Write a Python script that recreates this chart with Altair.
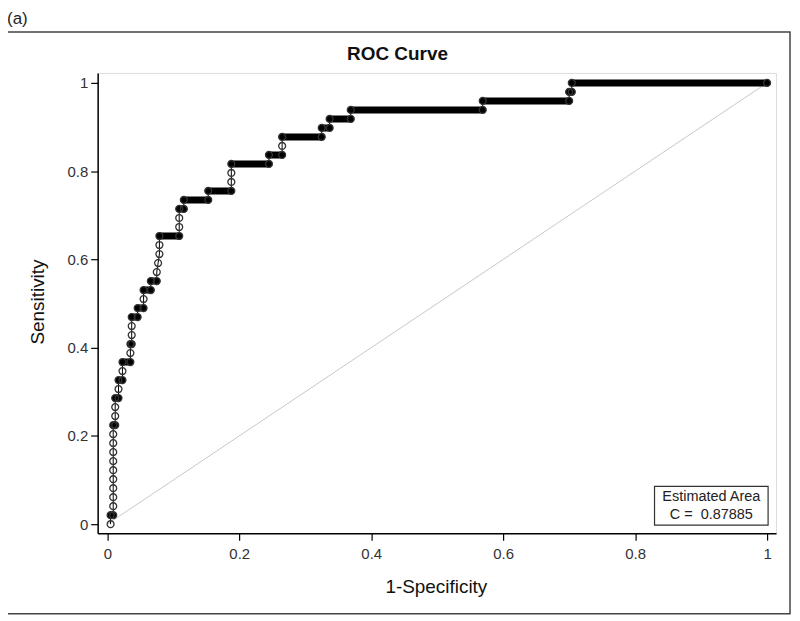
import altair as alt
import pandas as pd

# ---- data ----
tpr = [0.0, 0.0204, 0.0408, 0.0612, 0.0816, 0.1020, 0.1224, 0.1429, 0.1633, 0.1837,
       0.2041, 0.2245, 0.2449, 0.2653, 0.2857, 0.3061, 0.3265, 0.3469, 0.3673, 0.3878,
       0.4082, 0.4286, 0.4490, 0.4694, 0.4898, 0.5102, 0.5306, 0.5510, 0.5714, 0.5918,
       0.6122, 0.6327, 0.6531, 0.6735, 0.6939, 0.7143, 0.7347, 0.7551, 0.7755, 0.7959,
       0.8163, 0.8367, 0.8571, 0.8776, 0.8980, 0.9184, 0.9388, 0.9592, 0.9796, 1.0]
fpr_start = [0.005, 0.005, 0.009, 0.009, 0.009, 0.009, 0.009, 0.009, 0.009, 0.009,
             0.009, 0.009, 0.012, 0.012, 0.012, 0.017, 0.017, 0.023, 0.023, 0.035,
             0.035, 0.037, 0.037, 0.037, 0.046, 0.055, 0.055, 0.066, 0.075, 0.077,
             0.079, 0.079, 0.079, 0.109, 0.109, 0.109, 0.116, 0.153, 0.188, 0.188,
             0.188, 0.245, 0.265, 0.265, 0.325, 0.337, 0.369, 0.569, 0.700, 0.704]
fpr_end = [0.005, 0.009, 0.009, 0.009, 0.009, 0.009, 0.009, 0.009, 0.009, 0.009,
           0.009, 0.012, 0.012, 0.012, 0.017, 0.017, 0.023, 0.023, 0.035, 0.035,
           0.037, 0.037, 0.037, 0.046, 0.055, 0.055, 0.066, 0.075, 0.075, 0.077,
           0.079, 0.079, 0.109, 0.109, 0.109, 0.116, 0.153, 0.188, 0.188, 0.188,
           0.245, 0.265, 0.265, 0.325, 0.337, 0.369, 0.569, 0.700, 0.704, 1.0]
diag_x = [0.0, 1.0]
diag_y = [0.0, 1.0]
x_ticks = [0, 0.2, 0.4, 0.6, 0.8, 1]
y_ticks = [0, 0.2, 0.4, 0.6, 0.8, 1]
legend_lines = ["Estimated Area", "C =\u00a0\u00a00.87885"]
chart_title = "ROC Curve"
x_title = "1-Specificity"
y_title = "Sensitivity"
panel_label = "(a)"

FONT = "Liberation Sans"

# ---- tables ----
pts = []
runs = []
path = []
order = 0
for k in range(len(tpr)):
    pts.append({"x": fpr_start[k], "y": tpr[k]})
    path.append({"x": fpr_start[k], "y": tpr[k], "o": order}); order += 1
    if fpr_end[k] - fpr_start[k] > 0.0005:
        pts.append({"x": fpr_end[k], "y": tpr[k]})
        runs.append({"x": fpr_start[k], "x2": fpr_end[k], "y": tpr[k]})
        path.append({"x": fpr_end[k], "y": tpr[k], "o": order}); order += 1
pts = pd.DataFrame(pts)
runs = pd.DataFrame(runs)
path = pd.DataFrame(path)
diag = pd.DataFrame({"x": diag_x, "y": diag_y})

xs = alt.Scale(domain=[-0.0146, 1.0136], nice=False, zero=False)
ys = alt.Scale(domain=[-0.0203, 1.0226], nice=False, zero=False)

x_axis = alt.Axis(values=x_ticks, format="~g", title=None, grid=False, tickSize=7,
                  labelPadding=6, labelFontSize=15, labelColor="#333", labelFont=FONT,
                  domainColor="black", domainWidth=1.5, tickColor="black", tickWidth=1.2,
                  labelFlush=False)
y_axis = alt.Axis(values=y_ticks, format="~g", title=None, grid=False, tickSize=7,
                  labelPadding=3, labelFontSize=15, labelColor="#333", labelFont=FONT,
                  domainColor="black", domainWidth=1.5, tickColor="black", tickWidth=1.2,
                  labelFlush=False)

X = alt.X("x:Q", scale=xs, axis=x_axis)
Y = alt.Y("y:Q", scale=ys, axis=y_axis)

diag_layer = alt.Chart(diag).mark_line(color="#c8c8c8", strokeWidth=1).encode(x=X, y=Y)

path_layer = alt.Chart(path).mark_line(color="black", strokeWidth=1).encode(
    x=X, y=Y, order="o:Q")

run_layer = alt.Chart(runs).mark_rule(color="black", strokeWidth=7, strokeCap="round").encode(
    x=X, x2="x2:Q", y=Y)

pt_layer = alt.Chart(pts).mark_point(shape="circle", size=48, filled=False,
                                     color="#333", strokeWidth=1.3, opacity=1).encode(x=X, y=Y)

# decorations (text and frames)
frame = alt.Chart(pd.DataFrame({"a": [0]})).mark_rect(
    fillOpacity=0, stroke="#444", strokeWidth=1.5).encode(
    x=alt.value(-91), x2=alt.value(695), y=alt.value(-41), y2=alt.value(543))

title_layer = alt.Chart(pd.DataFrame({"t": [chart_title]})).mark_text(
    font=FONT, fontSize=19, fontWeight="bold", color="#111", align="center",
    baseline="middle").encode(x=alt.value(301), y=alt.value(-19), text="t:N")

label_layer = alt.Chart(pd.DataFrame({"t": [panel_label]})).mark_text(
    font=FONT, fontSize=17, color="#222", align="left", baseline="middle").encode(
    x=alt.value(-91), y=alt.value(-54), text="t:N")

xt_layer = alt.Chart(pd.DataFrame({"t": [x_title]})).mark_text(
    font=FONT, fontSize=19, color="#111", align="center", baseline="middle").encode(
    x=alt.value(340), y=alt.value(516), text="t:N")

yt_layer = alt.Chart(pd.DataFrame({"t": [y_title]})).mark_text(
    font=FONT, fontSize=19, color="#111", align="center", baseline="middle", angle=270).encode(
    x=alt.value(-60), y=alt.value(230), text="t:N")

legend_box = alt.Chart(pd.DataFrame({"a": [0]})).mark_rect(
    fill="white", stroke="#333", strokeWidth=1.2).encode(
    x=alt.value(559), x2=alt.value(673), y=alt.value(415), y2=alt.value(454))

legend_text = alt.Chart(pd.DataFrame({"t": legend_lines, "yy": [426, 444]})).mark_text(
    font=FONT, fontSize=14.5, color="#222", align="center", baseline="middle").encode(
    x=alt.value(616), y=alt.Y("yy:Q", scale=None, axis=None), text="t:N")

chart = alt.layer(
    frame, diag_layer, path_layer, run_layer, pt_layer,
    legend_box, legend_text, title_layer, label_layer, xt_layer, yt_layer
).properties(
    width=681, height=462,
    autosize=alt.AutoSizeParams(type="none"),
    padding={"left": 90, "top": 64, "right": 16, "bottom": 84},
).configure_view(stroke="#777", strokeWidth=1.5).configure(background="white")

chart.save("out.html", embed_options={"renderer": "svg", "actions": False})
